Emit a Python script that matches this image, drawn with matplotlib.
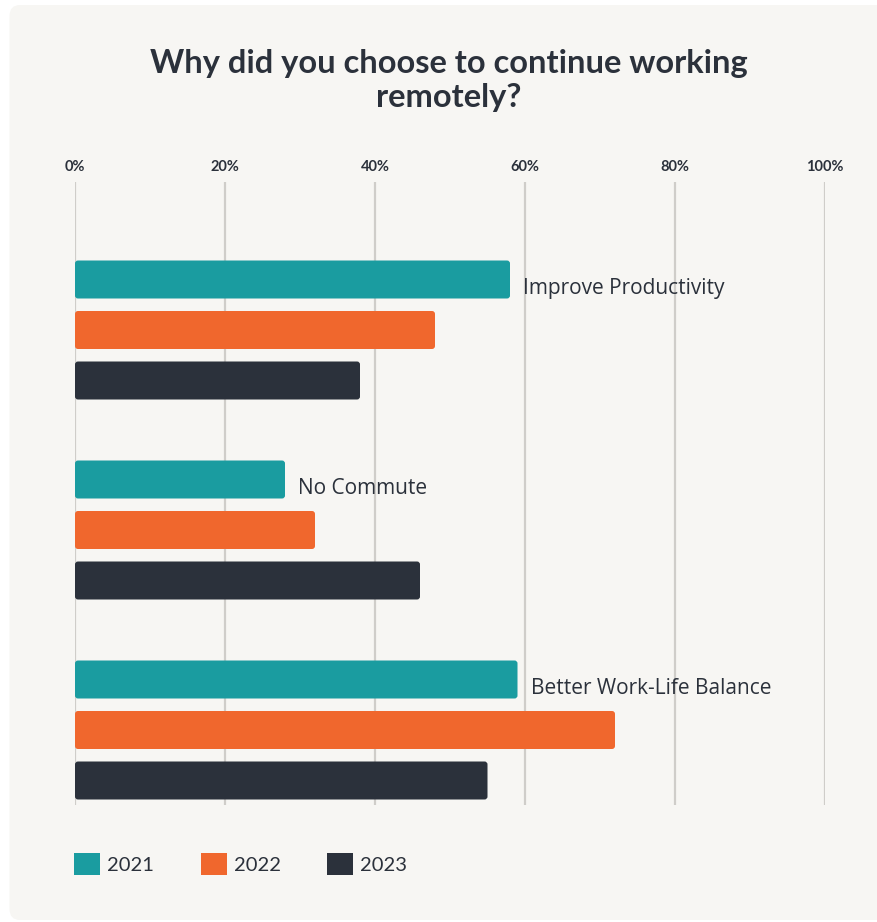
import numpy as np
import matplotlib.pyplot as plt
from matplotlib.patches import FancyBboxPatch, Patch

# survey answers, share of respondents (%)
reasons = ['Improve Productivity', 'No Commute', 'Better Work-Life Balance']
years = ['2021', '2022', '2023']
pct_2021 = [58, 28, 59]
pct_2022 = [48, 32, 72]
pct_2023 = [38, 46, 55]
ticks = [0, 20, 40, 60, 80, 100]
tick_labels = ['0%', '20%', '40%', '60%', '80%', '100%']

colors = ['#1a9ca0', '#f0672d', '#2b313b']
ink = '#2b313b'
card = '#f7f6f3'

plt.rcParams['font.family'] = ['Lato', 'DejaVu Sans']

W, H = 878, 922
fig = plt.figure(figsize=(W / 100, H / 100), dpi=100)
fig.patch.set_facecolor('white')

# rounded background card
fig.patches.append(FancyBboxPatch((9.5 / W, 2 / H), 1.2, 915 / H,
                                  boxstyle='round,pad=0,rounding_size=0.012',
                                  transform=fig.transFigure, facecolor=card,
                                  edgecolor='none', zorder=-10))

fig.text(449 / W, 1 - 63 / H, 'Why did you choose to continue working',
         ha='center', va='center', fontsize=23.5, fontweight='bold', color=ink)
fig.text(449 / W, 1 - 97 / H, 'remotely?',
         ha='center', va='center', fontsize=23.5, fontweight='bold', color=ink)

ax = fig.add_axes([75 / W, 1 - 805 / H, 750 / W, (805 - 182) / H])
ax.set_facecolor('none')
ax.set_zorder(2)

y = np.arange(len(reasons))
offset = 50.5 / 200
height = 38 / 200
series = [pct_2021, pct_2022, pct_2023]
for j, vals in enumerate(series):
    bars = ax.barh(y + (j - 1) * offset, vals, height=height, color=colors[j],
                   label=years[j], zorder=3)
    # swap each plain rectangle for one with slightly rounded corners
    for r in bars:
        x0, y0 = r.get_xy()
        ax.add_patch(FancyBboxPatch((x0, y0), r.get_width(), r.get_height(),
                                    boxstyle='round,pad=0,rounding_size=0.4',
                                    mutation_aspect=7.5 / 200,
                                    facecolor=colors[j], edgecolor='none',
                                    zorder=3))
        r.set_visible(False)

# category label sits to the right of the 2021 bar
for i, name in enumerate(reasons):
    ax.text(pct_2021[i] + 1.8, y[i] - offset + 0.045, name, ha='left',
            va='center', fontsize=15, color=ink, zorder=4,
            family=['Open Sans', 'DejaVu Sans'])

ax.set_xlim(0, 100)
ax.set_ylim(2.375, -0.74)
ax.set_xticks(ticks)
ax.set_xticklabels(tick_labels, fontsize=10.5, fontweight='bold', color=ink)
ax.xaxis.tick_top()
ax.tick_params(axis='x', length=0, pad=6)
ax.set_yticks([])
ax.grid(axis='x', color='#cfcdc9', lw=1.6, zorder=0)
for s in ax.spines.values():
    s.set_visible(False)

handles = [Patch(facecolor=c, edgecolor='none') for c in colors]
fig.legend(handles, years, loc='center left',
           bbox_to_anchor=(56 / W, 1 - 864 / H), ncol=3, frameon=False,
           fontsize=14.5, labelcolor=ink, handlelength=1.3, handleheight=1.3,
           handletextpad=0.35, columnspacing=2.3)

fig.savefig('out.png', dpi=100, facecolor=fig.get_facecolor())
